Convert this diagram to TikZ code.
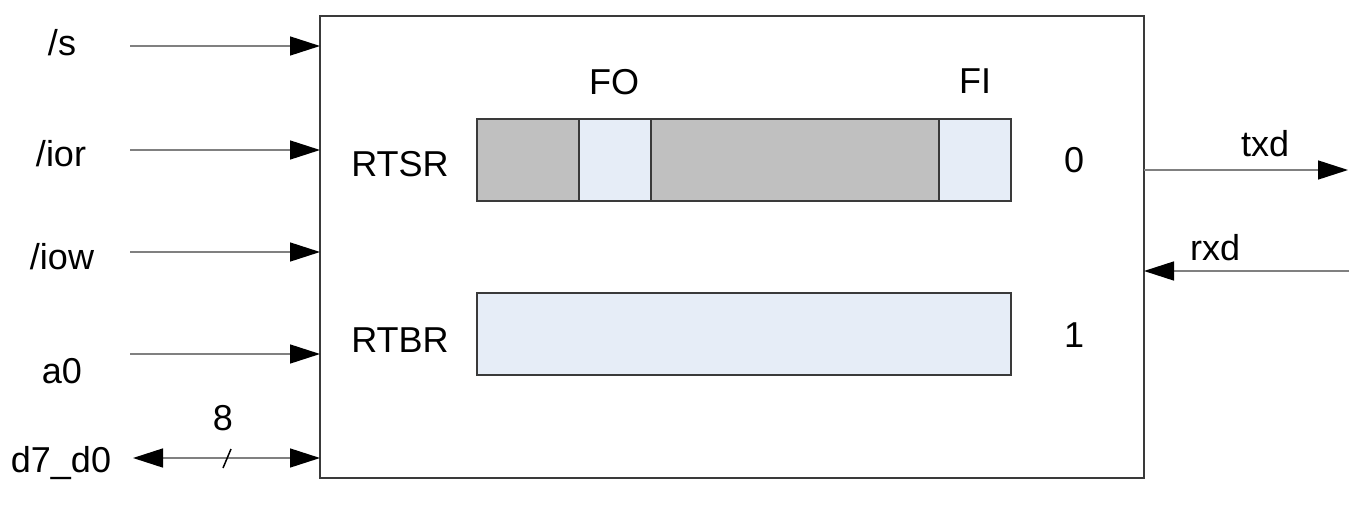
\documentclass[tikz,border=0pt]{standalone}
\usepackage{fontspec}
\setmainfont{Liberation Sans}
\usetikzlibrary{arrows.meta}
\definecolor{regGray}{HTML}{C0C0C0}
\definecolor{regBlue}{HTML}{E6EDF7}
\definecolor{lineGray}{HTML}{808080}
\definecolor{edgeGray}{HTML}{3A3A3A}
\begin{document}
\begin{tikzpicture}[x=1pt,y=-1pt,
  lbl/.style={font=\fontsize{36}{40}\selectfont, inner sep=0pt, outer sep=0pt, anchor=base},
  sig/.style={draw=lineGray, line width=1.5pt, -{Triangle[length=30pt,width=19pt,color=black,fill=black]}},
  bus/.style={draw=lineGray, line width=1.5pt, {Triangle[length=30pt,width=19pt,color=black,fill=black]}-{Triangle[length=30pt,width=19pt,color=black,fill=black]}},
  seg/.style={draw=edgeGray, line width=1.3pt, inner sep=0pt, outer sep=0pt, anchor=north west, minimum height=82pt},
  chip/.style={draw=edgeGray, line width=1.3pt, inner sep=0pt, outer sep=0pt, anchor=north west, minimum width=824pt, minimum height=462pt}
]
\useasboundingbox (0,0) rectangle (1359,508);

% main block
\node[chip] (box) at (320,16) {};

% registers
\node[seg, fill=regGray, minimum width=102pt] (s1) at (477,119) {};
\node[seg, fill=regBlue, minimum width=72pt] (fo) at (579,119) {};
\node[seg, fill=regGray, minimum width=288pt] (s2) at (651,119) {};
\node[seg, fill=regBlue, minimum width=72pt] (fi) at (939,119) {};
\node[seg, fill=regBlue, minimum width=534pt] (rtbr) at (477,293) {};

% register labels
\node[lbl] (lrtsr) at (400,176) {RTSR};
\node[lbl] (lrtbr) at (400,352) {RTBR};
\node[lbl] (lfo) at (614,95) {FO};
\node[lbl] (lfi) at (975,94) {FI};
\node[lbl] (l0) at (1074,172) {0};
\node[lbl] (l1) at (1074,347) {1};

% input signals
\coordinate (cs) at (130,46);
\coordinate (cior) at (130,150);
\coordinate (ciow) at (130,252);
\coordinate (ca) at (130,354);
\coordinate (cd) at (133,458);
\draw[sig] (cs) -- (cs -| box.west);
\draw[sig] (cior) -- (cior -| box.west);
\draw[sig] (ciow) -- (ciow -| box.west);
\draw[sig] (ca) -- (ca -| box.west);
\draw[bus] (cd) -- (cd -| box.west);
\draw[black, line width=1.5pt] (223,468) -- (231,449);

\node[lbl] (ls) at (62,56) {/s};
\node[lbl] (lior) at (61,166) {/ior};
\node[lbl] (liow) at (62,269) {/iow};
\node[lbl] (la) at (62,383) {a0};
\node[lbl] (ld) at (61,472) {d7\_d0};
\node[lbl] (l8) at (223,430) {8};

% serial lines
\coordinate (ctxd) at (1348,170);
\coordinate (crxd) at (1349,271);
\draw[sig] (ctxd -| box.east) -- (ctxd);
\draw[sig] (crxd) -- (crxd -| box.east);
\node[lbl] (ltxd) at (1265,157) {txd};
\node[lbl] (lrxd) at (1215,260) {rxd};
\end{tikzpicture}
\end{document}
